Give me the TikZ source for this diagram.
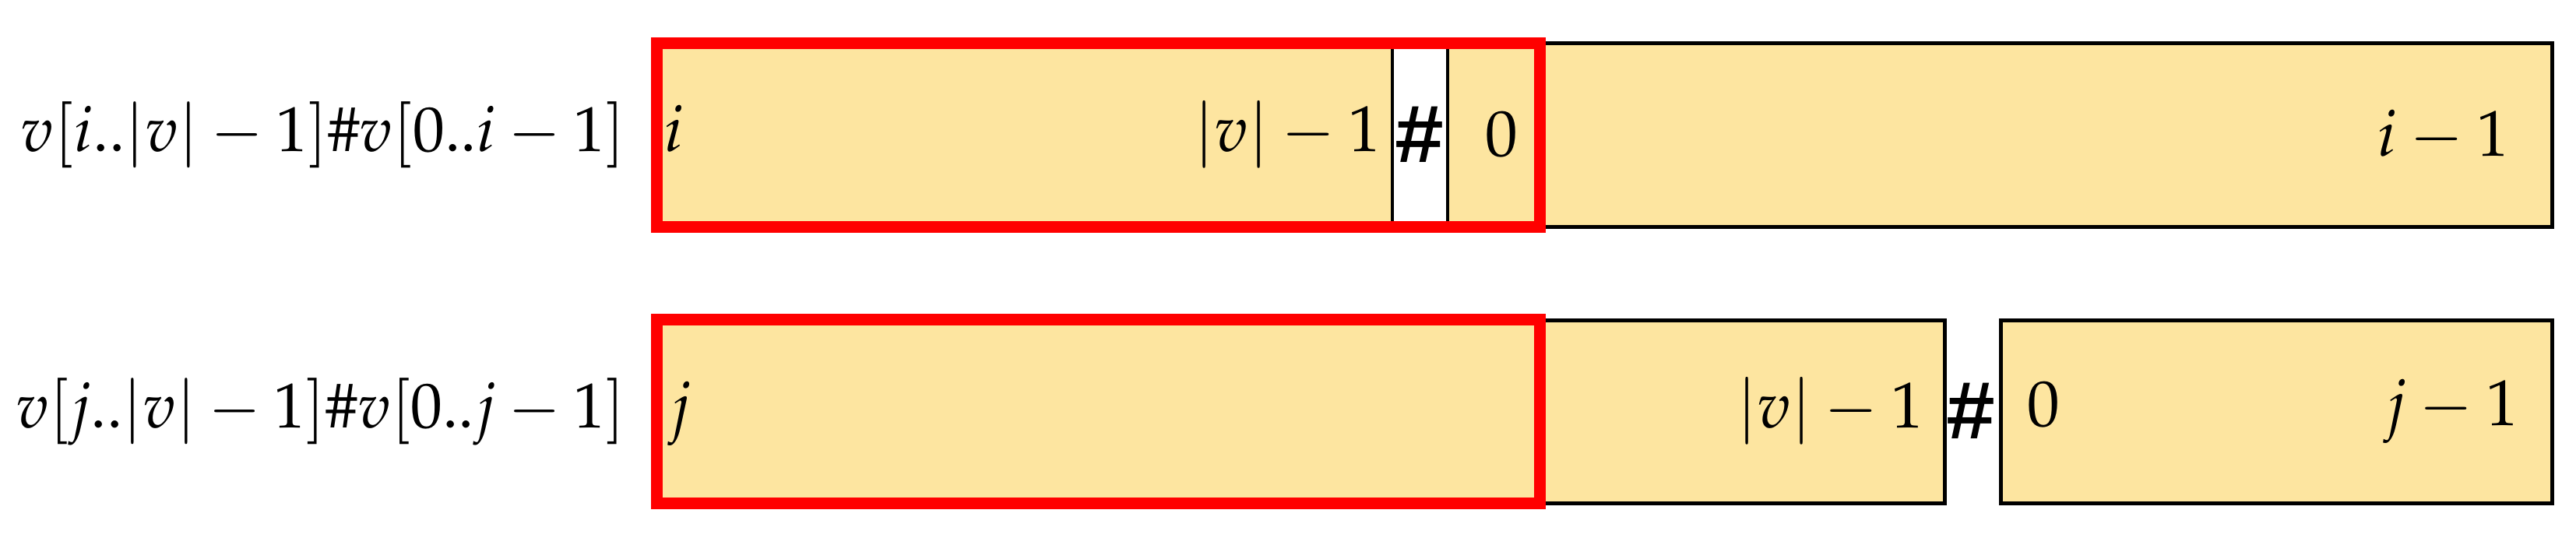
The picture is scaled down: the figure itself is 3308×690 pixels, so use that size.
\documentclass[tikz,border=0pt]{standalone}
\usepackage[no-math]{fontspec}
\newfontfamily\hashfont{Liberation Mono}[BoldFont={* Bold}]
\usepackage{mathpazo}
\definecolor{cellyellow}{RGB}{253,229,160}
\definecolor{markred}{RGB}{255,0,0}
\newcommand{\cellhash}{{\hashfont\bfseries\#}}
\begin{document}
\begin{tikzpicture}[x=0.12pt,y=-0.12pt,
  cell/.style={draw=black,line width=0.6pt,fill=cellyellow},
  sepcell/.style={draw=black,line width=0.48pt,fill=white},
  redframe/.style={draw=markred,line width=1.8pt},
  txt/.style={inner sep=0pt,font=\normalsize},
  hashtxt/.style={inner sep=0pt,font=\fontsize{13}{15}\selectfont},
  lbl/.style={inner sep=0pt,font=\fontsize{9.8}{12}\selectfont}]
\useasboundingbox (0,0) rectangle (3308,690);
% row 1
\path[cell] (843,55) rectangle (3277,291);
\path[sepcell] (1788,55) rectangle (1859,291);
\path[redframe] (843,55.5) rectangle (1977,291);
% row 2
\path[cell] (843,411) rectangle (2497,646);
\path[cell] (2569,411) rectangle (3277,646);
\path[redframe] (843,410) rectangle (1977,646);
% labels
\node[lbl,anchor=base east] (la) at (805,194) {$v[i..|v|-1]\#v[0..i-1]$};
\node[lbl,anchor=base east] (lb) at (805,549) {$v[j..|v|-1]\#v[0..j-1]$};
% row 1 texts
\node[txt,anchor=base west] (ai) at (851,194) {$i$};
\node[txt,anchor=base east] (av) at (1775,194) {$|v|-1$};
\node[hashtxt,anchor=center] (ah) at (1823,173) {\cellhash};
\node[txt,anchor=base] (a0) at (1928,200) {$0$};
\node[txt,anchor=base east] (ae) at (3224,200) {$i-1$};
% row 2 texts
\node[txt,anchor=base west] (bj) at (858,549) {$j$};
\node[txt,anchor=base east] (bv) at (2472,549) {$|v|-1$};
\node[hashtxt,anchor=center] (bh) at (2531,528) {\cellhash};
\node[txt,anchor=base west] (b0) at (2602,547) {$0$};
\node[txt,anchor=base east] (be) at (3236,546) {$j-1$};
\end{tikzpicture}
\end{document}
